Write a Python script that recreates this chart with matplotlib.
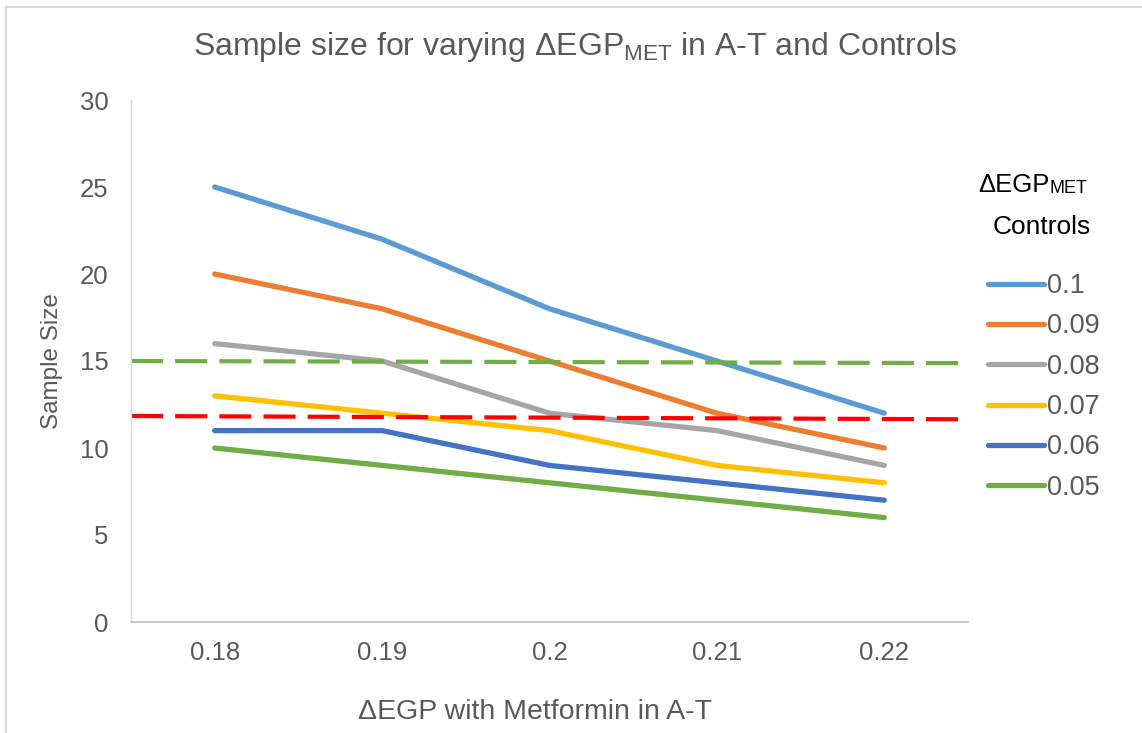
import matplotlib
matplotlib.use('Agg')
import matplotlib.pyplot as plt
from matplotlib.patches import Rectangle

plt.rcParams['font.family'] = ['Liberation Sans', 'DejaVu Sans']
plt.rcParams['mathtext.fontset'] = 'custom'
plt.rcParams['mathtext.rm'] = 'Liberation Sans'
plt.rcParams['mathtext.it'] = 'Liberation Sans'

# Delta EGP with metformin in A-T (x categories)
egp_at = ['0.18', '0.19', '0.2', '0.21', '0.22']

# sample size per Delta EGP_MET in controls
controls = ['0.1', '0.09', '0.08', '0.07', '0.06', '0.05']
n_010 = [25, 22, 18, 15, 12]
n_009 = [20, 18, 15, 12, 10]
n_008 = [16, 15, 12, 11, 9]
n_007 = [13, 12, 11, 9, 8]
n_006 = [11, 11, 9, 8, 7]
n_005 = [10, 9, 8, 7, 6]
series = [n_010, n_009, n_008, n_007, n_006, n_005]
colors = ['#5B9BD5', '#ED7D31', '#A5A5A5', '#FFC000', '#4472C4', '#70AD47']

# hand-drawn reference lines, left and right end values
green_ref = [15.0, 14.88]
red_ref = [11.84, 11.65]

grey = '#595959'

fig = plt.figure(figsize=(11.42, 7.33), dpi=100)
fig.patches.append(Rectangle((6/1142, -0.1), 1.2, 1.1 - 7/733, transform=fig.transFigure,
                             fill=False, edgecolor='#D9D9D9', lw=1.5))
ax = fig.add_axes([131/1142, 1 - 622/733, (968 - 131)/1142, (622 - 100)/733])

x = list(range(len(egp_at)))
lines = []
for y, c, lab in zip(series, colors, controls):
    ln, = ax.plot(x, y, color=c, lw=3.8, solid_capstyle='round', solid_joinstyle='round', label=lab)
    lines.append(ln)

ends = [-0.5, len(egp_at) - 0.5]
ax.plot(ends, green_ref, color='#70AD47', lw=3, dashes=(7.7, 2.9))
ax.plot(ends, red_ref, color='#FF0000', lw=3, dashes=(7.7, 2.9))

ax.set_xlim(-0.5, len(egp_at) - 0.5)
ax.set_ylim(0, 30)
ax.set_yticks(range(0, 31, 5))
ax.set_xticks(x)
ax.set_xticklabels(egp_at)
ax.tick_params(axis='both', length=0, labelsize=18.5, labelcolor=grey)
ax.tick_params(axis='x', pad=14)
ax.tick_params(axis='y', pad=16)
for s in ['top', 'right']:
    ax.spines[s].set_visible(False)
ax.spines['left'].set_color('#D9D9D9')
ax.spines['bottom'].set_color('#BFBFBF')
ax.spines['left'].set_linewidth(1)
ax.spines['bottom'].set_linewidth(1.2)

ax.set_ylabel('Sample Size', fontsize=17.5, color=grey, labelpad=12)
fig.text(535/1142, 1 - 712/733, '\u0394EGP with Metformin in A-T', fontsize=20.5,
         color=grey, ha='center', va='center')
fig.text(575/1142, 1 - 47/733, 'Sample size for varying \u0394EGP$_{\\mathrm{MET}}$ in A-T and Controls',
         fontsize=23, color=grey, ha='center', va='center')

# legend header
t1 = fig.text(978/1142, 1 - 197/733, '\u0394EGP', fontsize=18.5, color='black', va='bottom')
ax.annotate('MET', xy=(1, 0), xycoords=t1, fontsize=13, color='black', va='bottom')
fig.text(993/1142, 1 - 227/733, 'Controls', fontsize=19, color='black', va='center')

ax.legend(handles=lines, loc='upper left', bbox_to_anchor=(988/1142, 1 - 273/733),
          bbox_transform=fig.transFigure, frameon=False, fontsize=19.5, labelcolor=grey,
          handlelength=2.05, handletextpad=0.12, labelspacing=0.53, borderaxespad=0,
          borderpad=0)

fig.savefig('out.png', dpi=100)
